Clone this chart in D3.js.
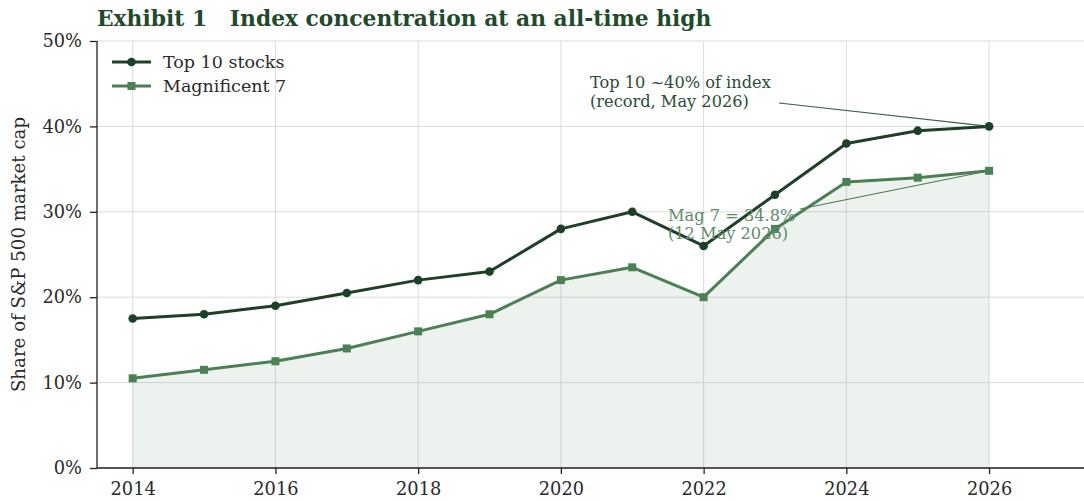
<!DOCTYPE html>
<html lang="en">
<head>
  <meta charset="UTF-8" />
  <script src="https://d3js.org/d3.v7.min.js"></script>
  <title>Index concentration</title>
  <style>
    body { margin: 0; background: #fff; }
    text { font-family: "DejaVu Serif", serif; }
  </style>
</head>
<body>
<script type="text/javascript">
	var years = [2014, 2015, 2016, 2017, 2018, 2019, 2020, 2021, 2022, 2023, 2024, 2025, 2026];
	var top10 = [17.5, 18, 19, 20.5, 22, 23, 28, 30, 26, 32, 38, 39.5, 40];
	var mag7 = [10.5, 11.5, 12.5, 14, 16, 18, 22, 23.5, 20, 28, 33.5, 34, 34.8];
	var xTicks = [2014, 2016, 2018, 2020, 2022, 2024, 2026];
	var yTicks = [0, 10, 20, 30, 40, 50];

	var width = 1084; var height = 501;
	var pLeft = 97, pRight = 1084, pTop = 41, pBottom = 468;
	var dark = "#1e3f28", mid = "#4b7f54", ink = "#2a2a2a";

	var svg = d3.select("body").append("svg").attr("width", width).attr("height", height);

	var x = d3.scaleLinear().domain([2013.5, 2027.33]).range([pLeft, pRight]);
	var y = d3.scaleLinear().domain([0, 50]).range([pBottom, pTop]);

	// grid
	svg.append("g").selectAll("line").data(xTicks).enter().append("line")
		.attr("x1", function(d){return x(d);}).attr("x2", function(d){return x(d);})
		.attr("y1", pTop).attr("y2", pBottom).attr("stroke", "#dcdcdc").attr("stroke-width", 1);
	svg.append("g").selectAll("line").data(yTicks).enter().append("line")
		.attr("x1", pLeft).attr("x2", pRight)
		.attr("y1", function(d){return y(d);}).attr("y2", function(d){return y(d);})
		.attr("stroke", "#dcdcdc").attr("stroke-width", 1);

	var rows = years.map(function(yr, i){return {year: yr, t: top10[i], m: mag7[i]};});

	// shaded area under mag 7
	var area = d3.area().x(function(d){return x(d.year);}).y0(y(0)).y1(function(d){return y(d.m);});
	svg.append("path").datum(rows).attr("d", area).attr("fill", "#4b7f54").attr("fill-opacity", 0.1);

	// annotation leader lines
	svg.append("line").attr("x1", 779).attr("y1", 103).attr("x2", x(2026)).attr("y2", y(40))
		.attr("stroke", "#3d5f47").attr("stroke-width", 1.1);
	svg.append("line").attr("x1", 800).attr("y1", 209).attr("x2", x(2026)).attr("y2", y(34.8))
		.attr("stroke", mid).attr("stroke-width", 1.1);

	// lines
	var lineT = d3.line().x(function(d){return x(d.year);}).y(function(d){return y(d.t);});
	var lineM = d3.line().x(function(d){return x(d.year);}).y(function(d){return y(d.m);});
	svg.append("path").datum(rows).attr("d", lineM).attr("stroke", mid).attr("stroke-width", 3).attr("fill", "none").attr("stroke-linejoin", "round");
	svg.append("path").datum(rows).attr("d", lineT).attr("stroke", dark).attr("stroke-width", 3).attr("fill", "none").attr("stroke-linejoin", "round");

	svg.append("g").selectAll("rect").data(rows).enter().append("rect")
		.attr("x", function(d){return x(d.year) - 4;}).attr("y", function(d){return y(d.m) - 4;})
		.attr("width", 8).attr("height", 8).attr("fill", mid);
	svg.append("g").selectAll("circle").data(rows).enter().append("circle")
		.attr("cx", function(d){return x(d.year);}).attr("cy", function(d){return y(d.t);})
		.attr("r", 4.3).attr("fill", dark);

	// axes
	var xAxis = svg.append("g").attr("transform", "translate(0," + pBottom + ")")
		.call(d3.axisBottom(x).tickValues(xTicks).tickFormat(d3.format("d")).tickSize(6).tickPadding(8));
	var yAxis = svg.append("g").attr("transform", "translate(" + pLeft + ",0)")
		.call(d3.axisLeft(y).tickValues(yTicks).tickFormat(function(d){return d + "%";}).tickSize(7).tickPadding(8));
	[xAxis, yAxis].forEach(function(a){
		a.select(".domain").attr("stroke", "#222").attr("stroke-width", 1.3);
		a.selectAll(".tick line").attr("stroke", "#222").attr("stroke-width", 1.3);
		a.selectAll(".tick text").attr("font-family", "DejaVu Serif").attr("font-size", 17.8).attr("fill", ink);
	});
	xAxis.select(".domain").attr("d", "M" + pLeft + ",0H" + pRight);
	yAxis.select(".domain").attr("d", "M0," + pBottom + "V" + pTop);

	// y label
	svg.append("text").attr("transform", "translate(25," + ((pTop + pBottom) / 2) + ") rotate(-90)")
		.attr("text-anchor", "middle").attr("font-size", 18.2).attr("fill", ink)
		.text("Share of S&P 500 market cap");

	// title
	svg.append("text").attr("x", 97).attr("y", 26).attr("font-size", 21.8).attr("font-weight", "bold")
		.attr("fill", "#1f4a2c").style("white-space", "pre")
		.text("Exhibit 1   Index concentration at an all-time high");

	// legend
	var legend = [{name: "Top 10 stocks", c: dark, shape: "circle"}, {name: "Magnificent 7", c: mid, shape: "rect"}];
	legend.forEach(function(l, i){
		var ly = 62 + i * 24;
		svg.append("line").attr("x1", 112).attr("x2", 151).attr("y1", ly).attr("y2", ly).attr("stroke", l.c).attr("stroke-width", 3);
		if (l.shape == "circle") svg.append("circle").attr("cx", 131.5).attr("cy", ly).attr("r", 4.3).attr("fill", l.c);
		else svg.append("rect").attr("x", 127.5).attr("y", ly - 4).attr("width", 8).attr("height", 8).attr("fill", l.c);
		svg.append("text").attr("x", 163).attr("y", ly + 6).attr("font-size", 17.5).attr("fill", ink).text(l.name);
	});

	// annotations
	svg.append("text").attr("x", 590).attr("y", 88).attr("font-size", 16.2).attr("fill", "#2c4a35").text("Top 10 ~40% of index");
	svg.append("text").attr("x", 590).attr("y", 107).attr("font-size", 16.2).attr("fill", "#2c4a35").text("(record, May 2026)");
	svg.append("text").attr("x", 668).attr("y", 221).attr("font-size", 16.2).attr("fill", "#5e8c66").text("Mag 7 = 34.8%");
	svg.append("text").attr("x", 668).attr("y", 239).attr("font-size", 16.2).attr("fill", "#5e8c66").text("(12 May 2026)");
</script>
</body>
</html>
